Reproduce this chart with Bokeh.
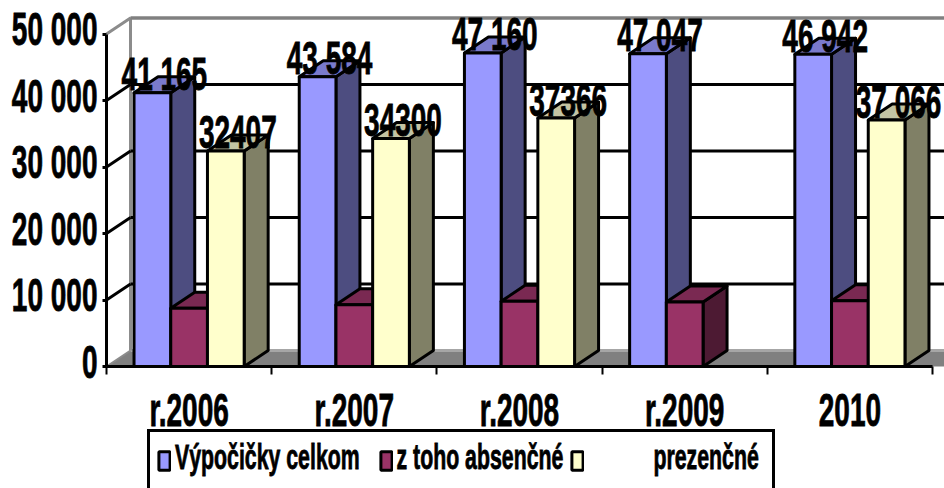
from bokeh.plotting import figure
from bokeh.document import Document
from bokeh.models import Range1d, FixedTicker, Legend, LegendItem, CustomJS, LinearAxis
from bokeh.core.properties import value as V
from bokeh.embed import file_html
from bokeh.resources import INLINE

categories = ["r.2006", "r.2007", "r.2008", "r.2009", "2010"]
celkom = [41165, 43584, 47160, 47047, 46942]
absencne = [8758, 9284, 9794, 9700, 9876]
prezencne = [32407, 34300, 37366, None, 37066]
celkom_labels = ["41 165", "43 584", "47 160", "47 047", "46 942"]
prezencne_labels = ["32407", "34300", "37366", None, "37 066"]
y_ticks = [0, 10000, 20000, 30000, 40000, 50000]
y_tick_labels = ["0", "10 000", "20 000", "30 000", "40 000", "50 000"]
series_names = ["Výpočičky celkom\u00a0\u00a0", "z toho absenčné", "\u00a0" * 11 + "prezenčné\u00a0"]

FONT = "Liberation Sans"
PX_X = 165.2            # pixels per category
PX_Y = 6.65 / 1000      # pixels per unit
DX = 24 / PX_X          # depth of the 3D box in data units
DY = 16 / PX_Y
BAR = 1 / 4.5
LW = 3
n = len(categories)

p = figure(width=944, height=488, output_backend="svg", toolbar_location=None,
           x_range=Range1d(-106 / PX_X, 838 / PX_X), y_range=Range1d(-122 / PX_Y, 366 / PX_Y),
           x_axis_location=None, y_axis_location=None,
           min_border=0, outline_line_color=None, background_fill_color="white", border_fill_color="white")
p.grid.visible = False

# floor
p.patch([0, DX, 6, 6, n], [0, DY, DY, 0, 0], fill_color="#808080", line_color=None)
p.line([DX, 6], [DY, DY], line_color="#A6A6A6", line_width=3)

# back wall and side wall
p.line([0, DX, DX], [50000, 50000 + DY, DY], line_color="#8C8C8C", line_width=3)
p.line([DX, 6], [50000 + DY, 50000 + DY], line_color="#808080", line_width=3.5)
p.line([0, DX], [0, DY], line_color="#8C8C8C", line_width=2)
grid = [t for t in y_ticks if 0 < t < 50000]
p.segment(x0=[DX] * len(grid), y0=[t + DY for t in grid], x1=[6] * len(grid), y1=[t + DY for t in grid],
          line_color="black", line_width=LW)
p.segment(x0=[0] * len(grid), y0=grid, x1=[DX] * len(grid), y1=[t + DY for t in grid],
          line_color="black", line_width=LW)

styles = [("#9999FF", "#4D4D80", "#7A7ACC"),
          ("#993366", "#4D1A33", "#7A2952"),
          ("#FFFFCC", "#808066", "#C4C4A3")]
legend_items = []
for j, vals in enumerate([celkom, absencne, prezencne]):
    front, side, top = styles[j]
    lefts = [i + 0.5 - 1.5 * BAR + j * BAR for i, v in enumerate(vals) if v is not None]
    tops = [v for v in vals if v is not None]
    p.patches(xs=[[l + BAR, l + BAR + DX, l + BAR + DX, l + BAR] for l in lefts],
              ys=[[0, DY, v + DY, v] for v in tops],
              fill_color=side, line_color="black", line_width=LW, line_join="round")
    p.patches(xs=[[l, l + DX, l + BAR + DX, l + BAR] for l in lefts],
              ys=[[v, v + DY, v + DY, v] for v in tops],
              fill_color=top, line_color="black", line_width=LW, line_join="round")
    r = p.vbar(x=[l + BAR / 2 for l in lefts], top=tops, bottom=0, width=BAR,
               fill_color=front, line_color="black", line_width=LW)
    legend_items.append(LegendItem(label=series_names[j], renderers=[r]))

# data labels
for j, vals, labels in [(0, celkom, celkom_labels), (2, prezencne, prezencne_labels)]:
    idx = [i for i, v in enumerate(vals) if v is not None]
    p.text(x=[i + 0.5 - BAR + j * BAR + DX / 2 for i in idx], y=[vals[i] for i in idx],
           text=[labels[i] for i in idx], text_font=V(FONT), text_font_style="bold",
           text_font_size="28px", text_align="center", text_baseline="alphabetic", text_color="black",
           y_offset=-12)

# axes, pinned at the data origin inside the full-size frame
ax = LinearAxis(fixed_location=0, ticker=FixedTicker(ticks=y_ticks))
ax.major_label_overrides = dict(zip(y_ticks, y_tick_labels))
ax.bounds = (0, 50000)
ax.axis_line_color = "black"
ax.axis_line_width = LW
ax.major_tick_line_color = "black"
ax.major_tick_line_width = LW
ax.major_tick_in = 0
ax.major_tick_out = 4
ax.minor_tick_line_color = None
ax.major_label_standoff = 5
ax.major_label_text_font = FONT
ax.major_label_text_font_style = "bold"
ax.major_label_text_font_size = "28px"
ax.major_label_text_color = "black"
p.add_layout(ax, "left")

centers = [i + 0.5 for i in range(n)]
bx = LinearAxis(fixed_location=0, ticker=FixedTicker(ticks=centers, minor_ticks=list(range(n + 1))))
bx.major_label_overrides = dict(zip(centers, categories))
bx.bounds = (0, n)
bx.axis_line_color = "black"
bx.axis_line_width = LW
bx.major_tick_line_color = None
bx.major_tick_in = 0
bx.major_tick_out = 0
bx.minor_tick_line_color = "black"
bx.minor_tick_line_width = 2
bx.minor_tick_in = 0
bx.minor_tick_out = 8
bx.major_label_standoff = 27
bx.major_label_text_font = FONT
bx.major_label_text_font_style = "bold"
bx.major_label_text_font_size = "28px"
bx.major_label_text_color = "black"
p.add_layout(bx, "below")

legend = Legend(items=legend_items, orientation="horizontal", location=(147, -3),
                border_line_color="black", border_line_width=LW, border_line_alpha=1,
                background_fill_color="white", background_fill_alpha=1,
                padding=7, spacing=7, margin=0,
                glyph_width=14, glyph_height=23, label_standoff=4, label_height=42,
                label_text_font=FONT, label_text_font_style="bold", label_text_font_size="21.3px",
                label_text_color="black")
p.add_layout(legend, "center")

# the reference's lettering is stretched tall: scale text vertically around its anchor
stretch = CustomJS(code="""
const S = 1.65;
function walk(root) {
  root.querySelectorAll('*').forEach(el => {
    const tag = el.tagName.toLowerCase();
    if (tag === 'text' && !el.dataset.st) {
      const x = parseFloat(el.getAttribute('x')) || 0, y = parseFloat(el.getAttribute('y')) || 0;
      const old = el.getAttribute('transform') || '';
      const s = el.textContent.trim();
      const dy = /^(\\d+ 000|0)$/.test(s) ? 2 : 0;
      el.setAttribute('transform', `${old} translate(${x},${y + dy}) scale(1,${S}) translate(${-x},${-y})`);
      el.setAttribute('stroke', 'black');
      el.setAttribute('stroke-width', '0.5');
      el.dataset.st = '1';
    } else if (!['style', 'script', 'title', 'head', 'html', 'body', 'svg'].includes(tag) && !el.dataset.st && !el.closest('svg')) {
      const own = [...el.childNodes].some(c => c.nodeType === 3 && c.textContent.trim());
      if (own) {
        el.style.display = 'inline-block';
        el.style.transform = `translateY(12px) scaleY(${S})`;
        el.style.transformOrigin = 'center';
        el.style.webkitTextStroke = '0.5px black';
        el.dataset.st = '1';
      }
    }
    if (el.shadowRoot) walk(el.shadowRoot);
  });
}
let k = 0;
const timer = setInterval(() => { walk(document); if (++k > 25) clearInterval(timer); }, 100);
walk(document);
""")
doc = Document()
doc.add_root(p)
doc.js_on_event("document_ready", stretch)

open("out.html", "w").write(file_html(p, INLINE))
